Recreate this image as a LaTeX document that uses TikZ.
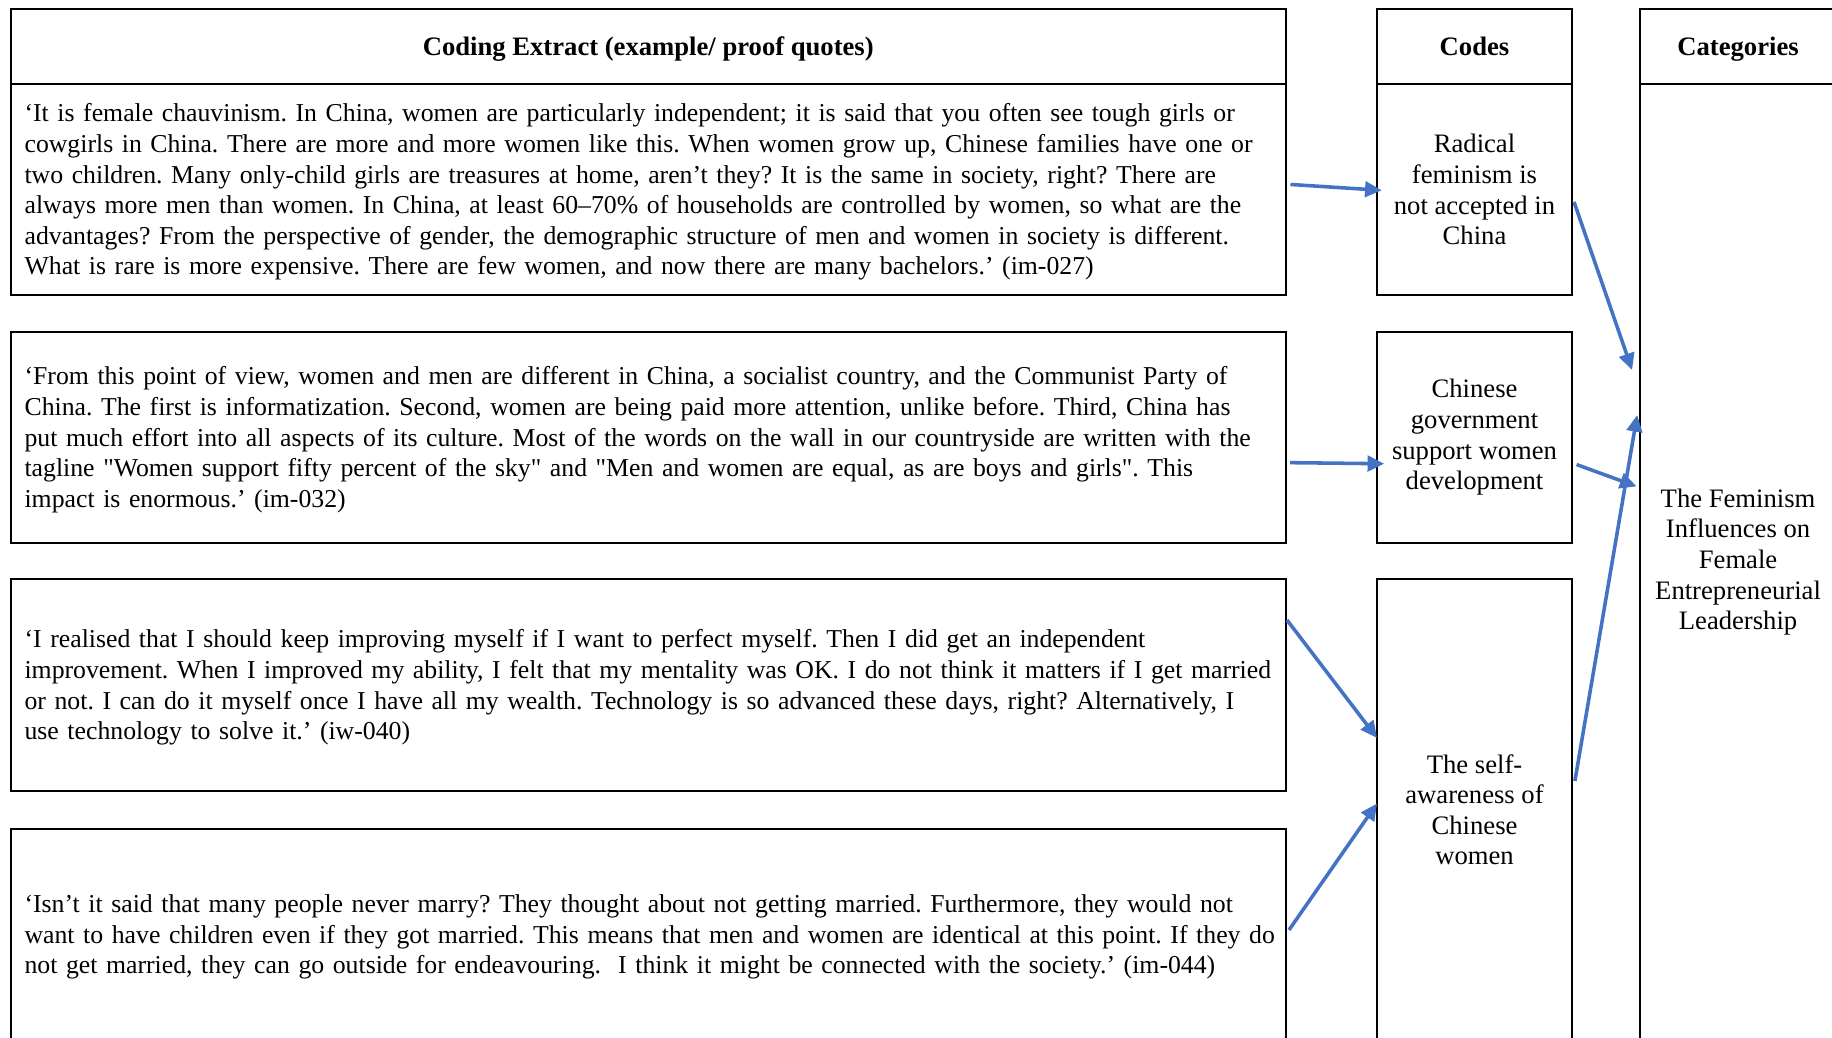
\documentclass[tikz,border=0pt]{standalone}
\usepackage{fontspec}
\setmainfont{Liberation Serif}
\usetikzlibrary{arrows.meta,positioning}
\definecolor{Link}{HTML}{4472C4}
\frenchspacing
\hyphenpenalty=10000
\exhyphenpenalty=10000

\begin{document}
\begin{tikzpicture}[x=1cm,y=1cm,>={Triangle[length=7.5pt,width=7pt]},
  cell/.style={draw,line width=0.9pt,inner sep=0pt,font=\fontsize{12}{13.8}\selectfont,
    execute at begin node={\rule{0pt}{0.891em}}},
  deep/.style={execute at end node={\rule[-0.216em]{0pt}{0.216em}}},
  head/.style={cell,deep,font=\fontsize{12}{13.8}\selectfont\bfseries,minimum height=1.183cm},
  quote/.style={cell,deep,minimum width=20.19cm,minimum height=3.348cm,text width=19.746cm,align=left,
    font=\fontsize{11.6}{13.8}\selectfont},
  code/.style={cell,minimum width=3.087cm,align=center,execute at begin node={\rule{0pt}{1.1em}}},
  flow/.style={->,Link,line width=1.6pt}]
\useasboundingbox (0,0) rectangle (29,16.431);
\clip (0,0) rectangle (29,16.431);
% column heads
\node[head,minimum width=20.19cm] (hx) at (10.262,15.693) {Coding Extract (example/ proof quotes)};
\node[head,minimum width=3.087cm] (hc) at (23.341,15.693) {Codes};
\node[head,minimum width=3.102cm] (hk) at (27.513,15.693) {Categories};
% quotes, one \mbox per printed line
\node[quote] (q1) at (10.262,13.428) {\mbox{‘It is female chauvinism. In China, women are particularly independent; it is said that you often see tough girls or}\\
\mbox{cowgirls in China. There are more and more women like this. When women grow up, Chinese families have one or}\\
\mbox{two children. Many only-child girls are treasures at home, aren’t they? It is the same in society, right? There are}\\
\mbox{always more men than women. In China, at least 60–70\% of households are controlled by women, so what are the}\\
\mbox{advantages? From the perspective of gender, the demographic structure of men and women in society is different.}\\
\mbox{What is rare is more expensive. There are few women, and now there are many bachelors.’ (im-027)}};
\node[quote] (q2) at (10.262,9.507) {\mbox{‘From this point of view, women and men are different in China, a socialist country, and the Communist Party of}\\
\mbox{China. The first is informatization. Second, women are being paid more attention, unlike before. Third, China has}\\
\mbox{put much effort into all aspects of its culture. Most of the words on the wall in our countryside are written with the}\\
\mbox{tagline \textquotedbl Women support fifty percent of the sky\textquotedbl{} and \textquotedbl Men and women are equal, as are boys and girls\textquotedbl . This}\\
\mbox{impact is enormous.’ (im-032)}};
\node[quote] (q3) at (10.262,5.586) {\mbox{‘I realised that I should keep improving myself if I want to perfect myself. Then I did get an independent}\\
\mbox{improvement. When I improved my ability, I felt that my mentality was OK. I do not think it matters if I get married}\\
\mbox{or not. I can do it myself once I have all my wealth. Technology is so advanced these days, right? Alternatively, I}\\
\mbox{use technology to solve it.’ (iw-040)}};
\node[quote] (q4) at (10.262,1.640) {\mbox{‘Isn’t it said that many people never marry? They thought about not getting married. Furthermore, they would not}\\
\mbox{want to have children even if they got married. This means that men and women are identical at this point. If they do}\\
\mbox{not get married, they can go outside for endeavouring.~ I think it might be connected with the society.’ (im-044)}};
% codes
\node[code,minimum height=3.348cm] (c1) at (23.341,13.428) {Radical\\feminism is\\not accepted in\\China};
\node[code,minimum height=3.348cm] (c2) at (23.341,9.507) {Chinese\\government\\support women\\development};
\node[code,minimum height=7.294cm] (c3) at (23.341,3.613) {The self-\\awareness of\\Chinese\\women};
% category
\node[code,minimum width=3.102cm,minimum height=15.136cm] (k1) at (27.513,7.534) {The Feminism\\Influences on\\Female\\Entrepreneurial\\Leadership};
% quotes to codes
\draw[flow] ([xshift=0.055cm,yshift=0.083cm]q1.east) -- ([xshift=0.09cm,yshift=-0.01cm]c1.west);
\draw[flow] ([xshift=0.05cm,yshift=-0.40cm]q2.east) -- ([xshift=0.13cm,yshift=-0.417cm]c2.west);
\draw[flow] ([yshift=1.03cm]q3.east) -- ([xshift=0.016cm,yshift=1.137cm]c3.west);
\draw[flow] ([xshift=0.032cm,yshift=0.07cm]q4.east) -- ([xshift=0.016cm,yshift=0.098cm]c3.west);
% codes to category
\draw[flow] ([xshift=0.016cm,yshift=-0.194cm]c1.east) -- ([xshift=-0.111cm,yshift=3.04cm]k1.west);
\draw[flow] ([xshift=0.057cm,yshift=-0.43cm]c2.east) -- ([xshift=-0.04cm,yshift=1.197cm]k1.west);
\draw[flow] ([xshift=0.03cm,yshift=0.456cm]c3.east) -- ([xshift=-0.03cm,yshift=2.327cm]k1.west);
\end{tikzpicture}
\end{document}
